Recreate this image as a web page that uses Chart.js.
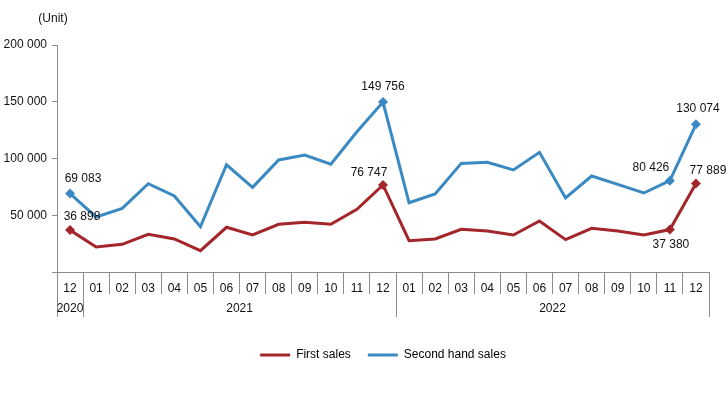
<!DOCTYPE html>
<html>
<head>
<meta charset="utf-8">
<script src="https://cdn.jsdelivr.net/npm/chart.js@4/dist/chart.umd.min.js"></script>
<style>
  html, body { margin: 0; padding: 0; background: #fff; }
  #wrap { width: 728px; height: 397px; }
</style>
</head>
<body>
<div id="wrap"><canvas id="sales-chart"></canvas></div>
<script>
// months on the axis, and the year row beneath them
const months = ['12', '01', '02', '03', '04', '05', '06', '07', '08', '09', '10', '11', '12',
                '01', '02', '03', '04', '05', '06', '07', '08', '09', '10', '11', '12'];
const years = ['2020', '2021', '2022'];
const monthsPerYear = [1, 12, 12];

const firstSales = [36898, 22000, 24400, 33200, 29100, 18800, 39400, 32600, 42000, 43800, 42000, 55200, 76747,
                    27600, 29100, 37600, 36100, 32600, 44900, 28500, 38500, 36100, 32600, 37380, 77889];
const secondHandSales = [69083, 48500, 56100, 77800, 67000, 39900, 94500, 74600, 98700, 103000, 94900, 123600, 149756,
                         61000, 68700, 95700, 96600, 89900, 105400, 65200, 84600, 77200, 69600, 80426, 130074];

const yTicks = [0, 50000, 100000, 150000, 200000];
// points that carry a marker and a value label
const labelled = [0, 12, 23, 24];

const RED = '#A3262A';
const BLUE = '#3A89C3';
const AXIS = '#8c8c8c';
const FONT = '"Liberation Sans", Arial, sans-serif';

function fmt(v) {
    return String(v).replace(/\B(?=(\d{3})+(?!\d))/g, ' ');
}

// label offsets (px, from the point) per dataset and index
const labelOffsets = [
    { 0: [12, -13], 12: [-14, -12], 23: [1, 15], 24: [12, -13] },
    { 0: [13, -15], 12: [0, -15], 23: [-19, -13], 24: [2, -16] }
];

const extras = {
    id: 'extras',
    afterDraw(chart) {
        const { ctx } = chart;
        const xs = chart.scales.x;
        const ys = chart.scales.y;
        ctx.save();
        ctx.font = '12px ' + FONT;
        ctx.fillStyle = '#111';
        ctx.textAlign = 'center';
        ctx.textBaseline = 'middle';

        // unit caption
        ctx.fillText('(Unit)', ys.right - 4, chart.chartArea.top - 26);

        // value labels
        chart.data.datasets.forEach((ds, di) => {
            const meta = chart.getDatasetMeta(di);
            labelled.forEach(i => {
                const pt = meta.data[i];
                const off = labelOffsets[di][i];
                ctx.fillText(fmt(ds.data[i]), pt.x + off[0], pt.y + off[1]);
            });
        });

        // year row
        const w = (xs.right - xs.left) / months.length;
        const top = xs.top;
        ctx.strokeStyle = AXIS;
        ctx.lineWidth = 1;
        let start = 0;
        years.forEach((yr, k) => {
            const x0 = xs.left + start * w;
            const x1 = xs.left + (start + monthsPerYear[k]) * w;
            ctx.beginPath();
            ctx.moveTo(Math.round(x1) + 0.5, top);
            ctx.lineTo(Math.round(x1) + 0.5, top + 45);
            if (k === 0) {
                ctx.moveTo(Math.round(x0) + 0.5, top);
                ctx.lineTo(Math.round(x0) + 0.5, top + 45);
            }
            ctx.stroke();
            ctx.fillText(yr, (x0 + x1) / 2, top + 37);
            start += monthsPerYear[k];
        });
        ctx.restore();
    }
};

function markerRadius(c) {
    return labelled.includes(c.dataIndex) ? 5 : 0;
}

new Chart(document.getElementById('sales-chart'), {
    type: 'line',
    data: {
        labels: months,
        datasets: [{
            label: 'First sales',
            data: firstSales,
            borderColor: RED,
            backgroundColor: RED,
            borderWidth: 3,
            pointStyle: 'rectRot',
            pointRadius: markerRadius,
            pointBorderWidth: 0,
            tension: 0
        }, {
            label: 'Second hand sales',
            data: secondHandSales,
            borderColor: BLUE,
            backgroundColor: BLUE,
            borderWidth: 3,
            pointStyle: 'rectRot',
            pointRadius: markerRadius,
            pointBorderWidth: 0,
            tension: 0
        }]
    },
    options: {
        responsive: true,
        maintainAspectRatio: false,
        animation: false,
        layout: { padding: { top: 45, right: 19, bottom: 26, left: 0 } },
        plugins: {
            tooltip: { enabled: false },
            legend: {
                position: 'bottom',
                fullSize: false,
                labels: {
                    boxWidth: 30,
                    boxHeight: 3,
                    padding: 17,
                    color: '#111',
                    font: { family: FONT, size: 12 },
                    generateLabels(chart) {
                        return chart.data.datasets.map((ds, i) => ({
                            text: ds.label,
                            fillStyle: ds.borderColor,
                            strokeStyle: ds.borderColor,
                            lineWidth: 0,
                            datasetIndex: i
                        }));
                    }
                }
            }
        },
        scales: {
            x: {
                offset: true,
                grid: { offset: true, drawOnChartArea: false, tickLength: 22, color: AXIS },
                border: { color: AXIS },
                ticks: {
                    padding: -13,
                    maxRotation: 0,
                    autoSkip: false,
                    color: '#111',
                    font: { family: FONT, size: 12 }
                },
                afterFit(scale) { scale.height = 60; }
            },
            y: {
                min: 0,
                max: 200000,
                afterBuildTicks(scale) { scale.ticks = yTicks.map(v => ({ value: v })); },
                grid: { drawOnChartArea: false, tickLength: 5, color: AXIS },
                border: { color: AXIS },
                ticks: {
                    padding: 5,
                    color: '#111',
                    font: { family: FONT, size: 12 },
                    callback: v => (v === 0 ? '' : fmt(v))
                },
                afterFit(scale) { scale.width = 57; }
            }
        }
    },
    plugins: [extras]
});
</script>
</body>
</html>
